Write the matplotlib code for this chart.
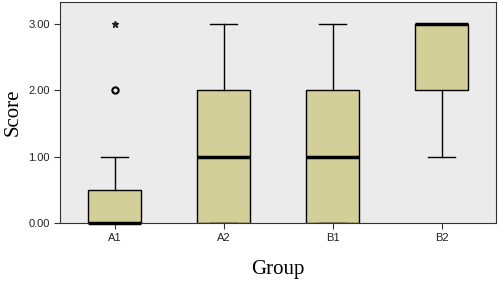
import matplotlib
matplotlib.use("Agg")
import matplotlib.pyplot as plt

groups = ["A1", "A2", "B1", "B2"]
q1 = [0.0, 0.0, 0.0, 2.0]
med = [0.0, 1.0, 1.0, 3.0]
q3 = [0.5, 2.0, 2.0, 3.0]
whislo = [0.0, 0.0, 0.0, 1.0]
whishi = [1.0, 3.0, 3.0, 3.0]
outliers = [[2.0], [], [], []]
extremes = [[3.0], [], [], []]

stats = []
for i, g in enumerate(groups):
    stats.append({"label": g, "q1": q1[i], "med": med[i], "q3": q3[i],
                  "whislo": whislo[i], "whishi": whishi[i], "fliers": []})

fig = plt.figure(figsize=(4.98, 2.81), dpi=100)
ax = fig.add_axes([0.1205, 0.2064, 0.8755, 0.7866])
ax.set_facecolor("#EBEBEB")

pos = [0.5, 1.5, 2.5, 3.5]
bp = ax.bxp(stats, positions=pos, widths=0.48, patch_artist=True, showfliers=False,
            boxprops=dict(facecolor="#D3CF98", edgecolor="black", linewidth=1.0),
            medianprops=dict(color="black", linewidth=2.5),
            whiskerprops=dict(color="black", linewidth=1.0),
            capprops=dict(color="black", linewidth=1.0),
            capwidths=0.25)
for m in bp["medians"]:
    m.set_clip_on(False)
    m.set_zorder(5)

for i in range(len(groups)):
    if outliers[i]:
        ax.plot([pos[i]] * len(outliers[i]), outliers[i], "o", mfc="none",
                mec="black", mew=1.5, ms=4.5)
    if extremes[i]:
        ax.plot([pos[i]] * len(extremes[i]), extremes[i], "*", color="#222222", ms=4.5)

ax.set_xlim(0, 4)
ax.set_ylim(0, 3.33)
ax.set_xticks(pos)
ax.set_xticklabels(groups)
ax.set_yticks([0, 1, 2, 3])
ax.set_yticklabels(["0.00", "1.00", "2.00", "3.00"])
ax.tick_params(labelsize=8, length=4, width=0.8, color="#333333", labelcolor="#222222")
for lab in ax.get_xticklabels() + ax.get_yticklabels():
    lab.set_family("Liberation Sans")
for s in ax.spines.values():
    s.set_color("#333333")
    s.set_linewidth(0.8)

ax.set_xlabel("Group", family="Liberation Serif", fontsize=15, labelpad=12)
ax.set_ylabel("Score", family="Liberation Serif", fontsize=15, labelpad=4)

fig.savefig("out.png", dpi=100)
